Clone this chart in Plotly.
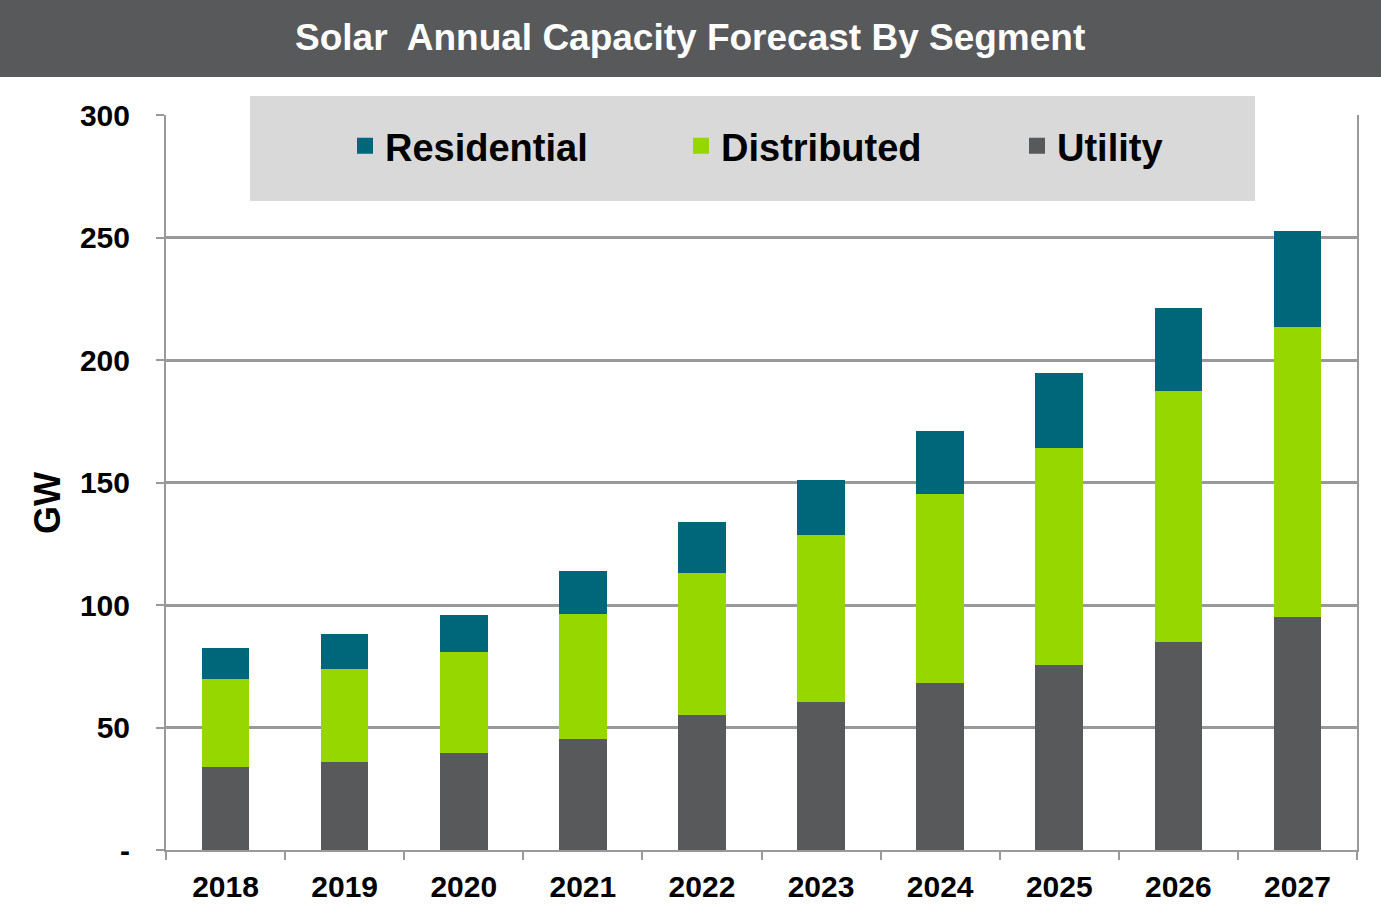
import plotly.graph_objects as go

years = ["2018", "2019", "2020", "2021", "2022", "2023", "2024", "2025", "2026", "2027"]
utility = [34, 36, 39.5, 45.5, 55, 60.5, 68, 75.5, 85, 95]
distributed = [36, 38, 41.5, 51, 58, 68, 77.5, 88.5, 102.5, 118.5]
residential = [12.5, 14.3, 15, 17.2, 20.8, 22.4, 25.7, 30.6, 33.9, 39.2]

y_tickvals = [0, 50, 100, 150, 200, 250, 300]
y_ticktext = ["-", "50", "100", "150", "200", "250", "300"]

series_names = ["Utility", "Distributed", "Residential"]
colors = {"Utility": "#58595b", "Distributed": "#97d700", "Residential": "#00677b"}
values = {"Utility": utility, "Distributed": distributed, "Residential": residential}

W, H = 1381, 906
L, R, T, B = 166, 24, 115, 56
pw, ph = W - L - R, H - T - B

def px_x(p):
    return (p - L) / pw

def px_y(p):
    return (H - B - p) / ph

FONT = "Liberation Sans, Arial, sans-serif"

fig = go.Figure()
for name in series_names:
    fig.add_trace(go.Bar(
        x=years, y=values[name], name=name,
        marker=dict(color=colors[name], line=dict(width=0)),
        showlegend=False,
    ))
# legend entries with larger square symbols
for name in series_names:
    fig.add_trace(go.Scatter(
        x=[None], y=[None], mode="markers", name=name,
        marker=dict(symbol="square", size=18, color=colors[name]),
        showlegend=True,
    ))

fig.update_layout(
    width=W, height=H,
    margin=dict(l=L, r=R, t=T, b=B, autoexpand=False),
    barmode="stack",
    bargap=0.6,
    plot_bgcolor="white",
    paper_bgcolor="white",
    font=dict(family=FONT, color="black"),
    showlegend=True,
    legend=dict(
        orientation="h",
        traceorder="reversed",
        x=px_x(345), xanchor="left",
        y=px_y(146), yanchor="middle",
        bgcolor="rgba(0,0,0,0)",
        font=dict(size=38, family=FONT, color="black", weight="bold"),
        entrywidth=291, entrywidthmode="pixels",
        itemsizing="trace",
    ),
    xaxis=dict(
        type="category",
        showgrid=False,
        showline=True, linecolor="#999999", linewidth=2,
        ticks="outside", tickson="boundaries", ticklen=8, tickwidth=2, tickcolor="#999999",
        tickfont=dict(size=30, family=FONT, color="black", weight="bold"),
        ticklabelstandoff=9,
        mirror=False,
    ),
    yaxis=dict(
        range=[0, 300],
        tickvals=y_tickvals, ticktext=y_ticktext,
        showgrid=True, gridcolor="#999999", gridwidth=3,
        showline=True, linecolor="#999999", linewidth=2, mirror=True,
        ticks="outside", ticklen=8, tickwidth=2, tickcolor="#999999",
        tickfont=dict(size=30, family=FONT, color="black", weight="bold"),
        ticklabelstandoff=20,
        zeroline=False,
    ),
    shapes=[
        dict(type="rect", xref="paper", yref="paper",
             x0=px_x(0), x1=px_x(W), y0=px_y(77), y1=px_y(0),
             fillcolor="#58595b", line=dict(width=0), layer="above"),
        dict(type="rect", xref="paper", yref="paper",
             x0=px_x(250), x1=px_x(1255), y0=px_y(201), y1=px_y(96),
             fillcolor="#d9d9d9", line=dict(width=0), layer="above"),
    ],
    annotations=[
        dict(text="Solar  Annual Capacity Forecast By Segment", xref="paper", yref="paper",
             x=px_x(690), y=px_y(38), xanchor="center", yanchor="middle", showarrow=False,
             font=dict(size=37, family=FONT, color="white", weight="bold")),
        dict(text="GW", xref="paper", yref="paper", textangle=-90,
             x=px_x(47), y=px_y(503), xanchor="center", yanchor="middle", showarrow=False,
             font=dict(size=36, family=FONT, color="black", weight="bold")),
    ],
)

fig.write_html("out.html", config={"displayModeBar": False},
               post_script="document.body.style.margin='0';document.body.style.padding='0';")
